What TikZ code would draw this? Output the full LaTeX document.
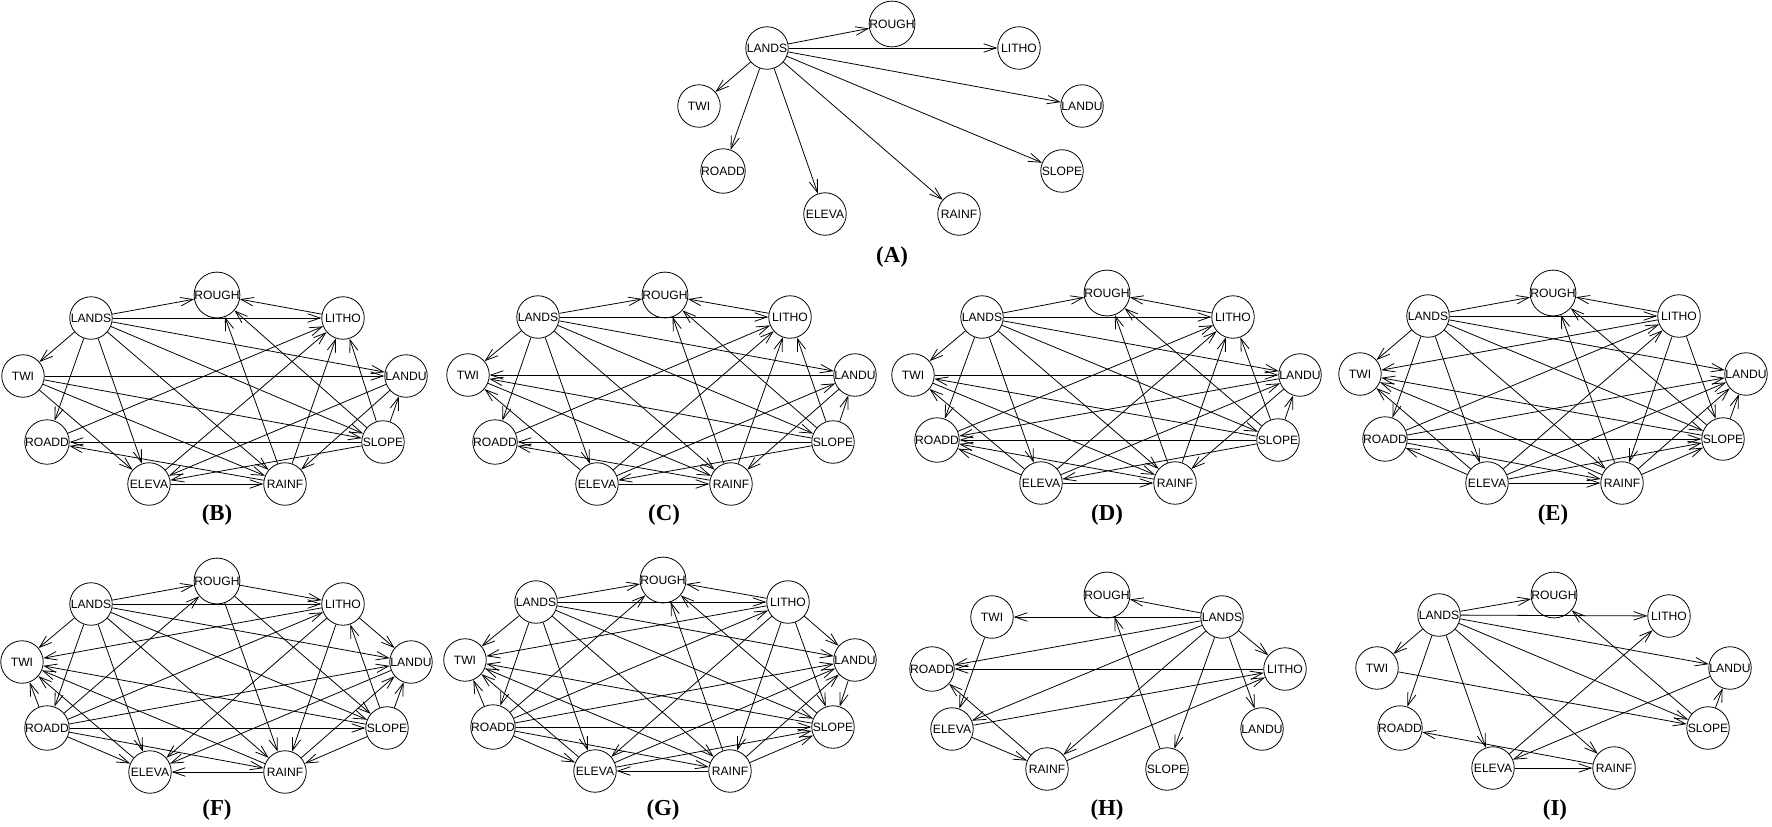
\documentclass[tikz,border=0pt]{standalone}
\usepackage{fontspec}
\setmainfont{Liberation Serif}
\newfontfamily\varfont{Liberation Sans}
\usepackage{tikz}
\usetikzlibrary{arrows.meta}

\begin{document}
\begin{tikzpicture}[
	x=0.02cm, y=-0.02cm,
	var/.style={
		circle, draw, line width=0.45pt,
		minimum size=0.85cm, inner sep=0pt,
		font=\varfont\fontsize{6.9}{7.5}\selectfont
	},
	panel/.style={
		font=\bfseries\fontsize{13}{15}\selectfont
	},
	arrow/.style={-{Straight Barb[length=2.5mm, width=1.7mm]}, line width=0.45pt, black}
	]
	\useasboundingbox (0,0) rectangle (1772,826);

	% (A) naive Bayes
	\node[var] (aLands) at (767,48) {LANDS};
	\node[var] (aRough) at (892,24) {ROUGH};
	\node[var] (aLitho) at (1019,48) {LITHO};
	\node[var] (aTwi) at (699,106) {TWI};
	\node[var] (aLandu) at (1082,106) {LANDU};
	\node[var] (aRoadd) at (723,171) {ROADD};
	\node[var] (aSlope) at (1062,171) {SLOPE};
	\node[var] (aEleva) at (825,214) {ELEVA};
	\node[var] (aRainf) at (959,214) {RAINF};
	\node[panel] (labA) at (892,257) {(A)};

	\draw[arrow] (aLands) -- (aRough);
	\draw[arrow] (aLands) -- (aLitho);
	\draw[arrow] (aLands) -- (aTwi);
	\draw[arrow] (aLands) -- (aLandu);
	\draw[arrow] (aLands) -- (aRoadd);
	\draw[arrow] (aLands) -- (aSlope);
	\draw[arrow] (aLands) -- (aEleva);
	\draw[arrow] (aLands) -- (aRainf);

	% (B)
	\node[var] (bLands) at (91,318) {LANDS};
	\node[var] (bRough) at (217,295) {ROUGH};
	\node[var] (bLitho) at (343,318) {LITHO};
	\node[var] (bTwi) at (23,376) {TWI};
	\node[var] (bLandu) at (406,376) {LANDU};
	\node[var] (bRoadd) at (47,442) {ROADD};
	\node[var] (bSlope) at (383,442) {SLOPE};
	\node[var] (bEleva) at (149,484) {ELEVA};
	\node[var] (bRainf) at (285,484) {RAINF};
	\node[panel] (labB) at (217,515) {(B)};

	\draw[arrow] (bLands) -- (bRough);
	\draw[arrow] (bLands) -- (bLitho);
	\draw[arrow] (bLands) -- (bTwi);
	\draw[arrow] (bLands) -- (bRoadd);
	\draw[arrow] (bLands) -- (bEleva);
	\draw[arrow] (bLands) -- (bRainf);
	\draw[arrow] (bLands) -- (bLandu);
	\draw[arrow] (bLands) -- (bSlope);
	\draw[arrow] (bLitho) -- (bRough);
	\draw[arrow] (bRainf) -- (bRough);
	\draw[arrow] (bSlope) -- (bRough);
	\draw[arrow] (bTwi) -- (bLandu);
	\draw[arrow] (bTwi) -- (bSlope);
	\draw[arrow] (bTwi) -- (bEleva);
	\draw[arrow] (bTwi) -- (bRainf);
	\draw[arrow] (bSlope) -- (bRoadd);
	\draw[arrow] (bRainf) -- (bRoadd);
	\draw[arrow] (bRoadd) -- (bLitho);
	\draw[arrow] (bEleva) -- (bRainf);
	\draw[arrow] (bEleva) -- (bLitho);
	\draw[arrow] (bLandu) -- (bEleva);
	\draw[arrow] (bSlope) -- (bEleva);
	\draw[arrow] (bRainf) -- (bLitho);
	\draw[arrow] (bSlope) -- (bLitho);
	\draw[arrow] (bSlope) -- (bLandu);
	\draw[arrow] (bLandu) -- (bRainf);

	% (C)
	\node[var] (cLands) at (538,317) {LANDS};
	\node[var] (cRough) at (665,295) {ROUGH};
	\node[var] (cLitho) at (790,317) {LITHO};
	\node[var] (cTwi) at (468,375) {TWI};
	\node[var] (cLandu) at (855,375) {LANDU};
	\node[var] (cRoadd) at (495,442) {ROADD};
	\node[var] (cSlope) at (833,442) {SLOPE};
	\node[var] (cEleva) at (597,484) {ELEVA};
	\node[var] (cRainf) at (731,484) {RAINF};
	\node[panel] (labC) at (664,515) {(C)};

	\draw[arrow] (cLands) -- (cRough);
	\draw[arrow] (cLands) -- (cLitho);
	\draw[arrow] (cLands) -- (cTwi);
	\draw[arrow] (cLands) -- (cRoadd);
	\draw[arrow] (cLands) -- (cEleva);
	\draw[arrow] (cLands) -- (cRainf);
	\draw[arrow] (cLands) -- (cLandu);
	\draw[arrow] (cLands) -- (cSlope);
	\draw[arrow] (cLitho) -- (cRough);
	\draw[arrow] (cRainf) -- (cRough);
	\draw[arrow] (cSlope) -- (cRough);
	\draw[arrow] (cLandu) -- (cTwi);
	\draw[arrow] (cSlope) -- (cTwi);
	\draw[arrow] (cEleva) -- (cTwi);
	\draw[arrow] (cTwi) -- (cRainf);
	\draw[arrow] (cSlope) -- (cRoadd);
	\draw[arrow] (cRainf) -- (cRoadd);
	\draw[arrow] (cRoadd) -- (cLitho);
	\draw[arrow] (cEleva) -- (cRainf);
	\draw[arrow] (cEleva) -- (cLitho);
	\draw[arrow] (cEleva) -- (cLandu);
	\draw[arrow] (cSlope) -- (cEleva);
	\draw[arrow] (cRainf) -- (cLitho);
	\draw[arrow] (cSlope) -- (cLitho);
	\draw[arrow] (cSlope) -- (cLandu);
	\draw[arrow] (cLandu) -- (cRainf);

	% (D)
	\node[var] (dLands) at (982,317) {LANDS};
	\node[var] (dRough) at (1107,293) {ROUGH};
	\node[var] (dLitho) at (1233,317) {LITHO};
	\node[var] (dTwi) at (913,375) {TWI};
	\node[var] (dLandu) at (1300,375) {LANDU};
	\node[var] (dRoadd) at (937,440) {ROADD};
	\node[var] (dSlope) at (1278,440) {SLOPE};
	\node[var] (dEleva) at (1041,483) {ELEVA};
	\node[var] (dRainf) at (1175,483) {RAINF};
	\node[panel] (labD) at (1107,515) {(D)};

	\draw[arrow] (dLands) -- (dRough);
	\draw[arrow] (dLands) -- (dLitho);
	\draw[arrow] (dLands) -- (dTwi);
	\draw[arrow] (dLands) -- (dRoadd);
	\draw[arrow] (dLands) -- (dEleva);
	\draw[arrow] (dLands) -- (dRainf);
	\draw[arrow] (dLands) -- (dLandu);
	\draw[arrow] (dLands) -- (dSlope);
	\draw[arrow] (dLitho) -- (dRough);
	\draw[arrow] (dRainf) -- (dRough);
	\draw[arrow] (dSlope) -- (dRough);
	\draw[arrow] (dTwi) -- (dLandu);
	\draw[arrow] (dSlope) -- (dTwi);
	\draw[arrow] (dEleva) -- (dTwi);
	\draw[arrow] (dTwi) -- (dRainf);
	\draw[arrow] (dSlope) -- (dRoadd);
	\draw[arrow] (dRainf) -- (dRoadd);
	\draw[arrow] (dLandu) -- (dRoadd);
	\draw[arrow] (dEleva) -- (dRoadd);
	\draw[arrow] (dRoadd) -- (dLitho);
	\draw[arrow] (dEleva) -- (dRainf);
	\draw[arrow] (dEleva) -- (dLitho);
	\draw[arrow] (dEleva) -- (dLandu);
	\draw[arrow] (dSlope) -- (dEleva);
	\draw[arrow] (dRainf) -- (dLitho);
	\draw[arrow] (dSlope) -- (dLitho);
	\draw[arrow] (dSlope) -- (dLandu);
	\draw[arrow] (dLandu) -- (dRainf);

	% (E)
	\node[var] (eLands) at (1428,316) {LANDS};
	\node[var] (eRough) at (1553,293) {ROUGH};
	\node[var] (eLitho) at (1679,316) {LITHO};
	\node[var] (eTwi) at (1360,374) {TWI};
	\node[var] (eLandu) at (1746,374) {LANDU};
	\node[var] (eRoadd) at (1385,439) {ROADD};
	\node[var] (eSlope) at (1723,439) {SLOPE};
	\node[var] (eEleva) at (1487,483) {ELEVA};
	\node[var] (eRainf) at (1622,483) {RAINF};
	\node[panel] (labE) at (1553,515) {(E)};

	\draw[arrow] (eLands) -- (eRough);
	\draw[arrow] (eLands) -- (eLitho);
	\draw[arrow] (eLands) -- (eTwi);
	\draw[arrow] (eLands) -- (eRoadd);
	\draw[arrow] (eLands) -- (eEleva);
	\draw[arrow] (eLands) -- (eRainf);
	\draw[arrow] (eLands) -- (eLandu);
	\draw[arrow] (eLands) -- (eSlope);
	\draw[arrow] (eLitho) -- (eRough);
	\draw[arrow] (eRainf) -- (eRough);
	\draw[arrow] (eSlope) -- (eRough);
	\draw[arrow] (eLitho) -- (eTwi);
	\draw[arrow] (eSlope) -- (eTwi);
	\draw[arrow] (eEleva) -- (eTwi);
	\draw[arrow] (eRainf) -- (eTwi);
	\draw[arrow] (eRoadd) -- (eSlope);
	\draw[arrow] (eRoadd) -- (eLitho);
	\draw[arrow] (eRoadd) -- (eLandu);
	\draw[arrow] (eRoadd) -- (eRainf);
	\draw[arrow] (eEleva) -- (eRoadd);
	\draw[arrow] (eEleva) -- (eRainf);
	\draw[arrow] (eEleva) -- (eLitho);
	\draw[arrow] (eEleva) -- (eLandu);
	\draw[arrow] (eEleva) -- (eSlope);
	\draw[arrow] (eLitho) -- (eRainf);
	\draw[arrow] (eLitho) -- (eSlope);
	\draw[arrow] (eSlope) -- (eLandu);
	\draw[arrow] (eRainf) -- (eLandu);
	\draw[arrow] (eRainf) -- (eSlope);

	% (F)
	\node[var] (fLands) at (91,604) {LANDS};
	\node[var] (fRough) at (217,581) {ROUGH};
	\node[var] (fLitho) at (343,604) {LITHO};
	\node[var] (fTwi) at (22,662) {TWI};
	\node[var] (fLandu) at (411,662) {LANDU};
	\node[var] (fRoadd) at (47,728) {ROADD};
	\node[var] (fSlope) at (387,728) {SLOPE};
	\node[var] (fEleva) at (150,772) {ELEVA};
	\node[var] (fRainf) at (285,772) {RAINF};
	\node[panel] (labF) at (217,810) {(F)};

	\draw[arrow] (fLands) -- (fRough);
	\draw[arrow] (fLands) -- (fLitho);
	\draw[arrow] (fLands) -- (fTwi);
	\draw[arrow] (fLands) -- (fRoadd);
	\draw[arrow] (fLands) -- (fEleva);
	\draw[arrow] (fLands) -- (fRainf);
	\draw[arrow] (fLands) -- (fLandu);
	\draw[arrow] (fLands) -- (fSlope);
	\draw[arrow] (fRough) -- (fLitho);
	\draw[arrow] (fRoadd) -- (fRough);
	\draw[arrow] (fRough) -- (fRainf);
	\draw[arrow] (fRough) -- (fSlope);
	\draw[arrow] (fLitho) -- (fTwi);
	\draw[arrow] (fRoadd) -- (fTwi);
	\draw[arrow] (fSlope) -- (fTwi);
	\draw[arrow] (fEleva) -- (fTwi);
	\draw[arrow] (fRainf) -- (fTwi);
	\draw[arrow] (fRoadd) -- (fLitho);
	\draw[arrow] (fRoadd) -- (fLandu);
	\draw[arrow] (fRoadd) -- (fSlope);
	\draw[arrow] (fRoadd) -- (fEleva);
	\draw[arrow] (fRoadd) -- (fRainf);
	\draw[arrow] (fRainf) -- (fEleva);
	\draw[arrow] (fLitho) -- (fLandu);
	\draw[arrow] (fLitho) -- (fEleva);
	\draw[arrow] (fLitho) -- (fRainf);
	\draw[arrow] (fSlope) -- (fLitho);
	\draw[arrow] (fSlope) -- (fLandu);
	\draw[arrow] (fLandu) -- (fEleva);
	\draw[arrow] (fRainf) -- (fLandu);
	\draw[arrow] (fSlope) -- (fRainf);

	% (G)
	\node[var] (gLands) at (536,602) {LANDS};
	\node[var] (gRough) at (663,580) {ROUGH};
	\node[var] (gLitho) at (788,602) {LITHO};
	\node[var] (gTwi) at (465,660) {TWI};
	\node[var] (gLandu) at (855,660) {LANDU};
	\node[var] (gRoadd) at (493,727) {ROADD};
	\node[var] (gSlope) at (833,727) {SLOPE};
	\node[var] (gEleva) at (595,771) {ELEVA};
	\node[var] (gRainf) at (730,771) {RAINF};
	\node[panel] (labG) at (663,810) {(G)};

	\draw[arrow] (gLands) -- (gRough);
	\draw[arrow] (gLands) -- (gLitho);
	\draw[arrow] (gLands) -- (gTwi);
	\draw[arrow] (gLands) -- (gRoadd);
	\draw[arrow] (gLands) -- (gEleva);
	\draw[arrow] (gLands) -- (gRainf);
	\draw[arrow] (gLands) -- (gLandu);
	\draw[arrow] (gLands) -- (gSlope);
	\draw[arrow] (gLitho) -- (gRough);
	\draw[arrow] (gRoadd) -- (gRough);
	\draw[arrow] (gRainf) -- (gRough);
	\draw[arrow] (gSlope) -- (gRough);
	\draw[arrow] (gLitho) -- (gTwi);
	\draw[arrow] (gRoadd) -- (gTwi);
	\draw[arrow] (gSlope) -- (gTwi);
	\draw[arrow] (gEleva) -- (gTwi);
	\draw[arrow] (gRainf) -- (gTwi);
	\draw[arrow] (gRoadd) -- (gLitho);
	\draw[arrow] (gRoadd) -- (gLandu);
	\draw[arrow] (gRoadd) -- (gSlope);
	\draw[arrow] (gRoadd) -- (gEleva);
	\draw[arrow] (gRoadd) -- (gRainf);
	\draw[arrow] (gRainf) -- (gEleva);
	\draw[arrow] (gLitho) -- (gLandu);
	\draw[arrow] (gLitho) -- (gEleva);
	\draw[arrow] (gLitho) -- (gRainf);
	\draw[arrow] (gLitho) -- (gSlope);
	\draw[arrow] (gLandu) -- (gSlope);
	\draw[arrow] (gEleva) -- (gLandu);
	\draw[arrow] (gEleva) -- (gSlope);
	\draw[arrow] (gRainf) -- (gSlope);
	\draw[arrow] (gRainf) -- (gLandu);

	% (H)
	\node[var] (hRough) at (1107,595) {ROUGH};
	\node[var] (hTwi) at (992,617) {TWI};
	\node[var] (hLands) at (1222,617) {LANDS};
	\node[var] (hRoadd) at (932,669) {ROADD};
	\node[var] (hLitho) at (1285,669) {LITHO};
	\node[var] (hEleva) at (952,729) {ELEVA};
	\node[var] (hLandu) at (1262,729) {LANDU};
	\node[var] (hRainf) at (1047,769) {RAINF};
	\node[var] (hSlope) at (1167,769) {SLOPE};
	\node[panel] (labH) at (1107,810) {(H)};

	\draw[arrow] (hLands) -- (hRough);
	\draw[arrow] (hLands) -- (hTwi);
	\draw[arrow] (hLands) -- (hRoadd);
	\draw[arrow] (hLands) -- (hLitho);
	\draw[arrow] (hLands) -- (hLandu);
	\draw[arrow] (hLands) -- (hSlope);
	\draw[arrow] (hLands) -- (hRainf);
	\draw[arrow] (hLands) -- (hEleva);
	\draw[arrow] (hTwi) -- (hEleva);
	\draw[arrow] (hSlope) -- (hRough);
	\draw[arrow] (hEleva) -- (hLitho);
	\draw[arrow] (hRainf) -- (hLitho);
	\draw[arrow] (hEleva) -- (hRainf);
	\draw[arrow] (hRainf) -- (hRoadd);
	\draw[arrow] (hLitho) -- (hRoadd);

	% (I)
	\node[var] (iLands) at (1439,615) {LANDS};
	\node[var] (iRough) at (1554,595) {ROUGH};
	\node[var] (iLitho) at (1669,616) {LITHO};
	\node[var] (iTwi) at (1377,668) {TWI};
	\node[var] (iLandu) at (1730,668) {LANDU};
	\node[var] (iRoadd) at (1400,728) {ROADD};
	\node[var] (iSlope) at (1708,728) {SLOPE};
	\node[var] (iEleva) at (1493,768) {ELEVA};
	\node[var] (iRainf) at (1614,768) {RAINF};
	\node[panel] (labI) at (1555,810) {(I)};

	\draw[arrow] (iLands) -- (iRough);
	\draw[arrow] (iLands) -- (iLitho);
	\draw[arrow] (iLands) -- (iTwi);
	\draw[arrow] (iLands) -- (iRoadd);
	\draw[arrow] (iLands) -- (iEleva);
	\draw[arrow] (iLands) -- (iRainf);
	\draw[arrow] (iLands) -- (iLandu);
	\draw[arrow] (iLands) -- (iSlope);
	\draw[arrow] (iTwi) -- (iSlope);
	\draw[arrow] (iSlope) -- (iRough);
	\draw[arrow] (iSlope) -- (iLandu);
	\draw[arrow] (iLandu) -- (iEleva);
	\draw[arrow] (iEleva) -- (iLitho);
	\draw[arrow] (iEleva) -- (iRainf);
	\draw[arrow] (iRainf) -- (iRoadd);
\end{tikzpicture}
\end{document}
